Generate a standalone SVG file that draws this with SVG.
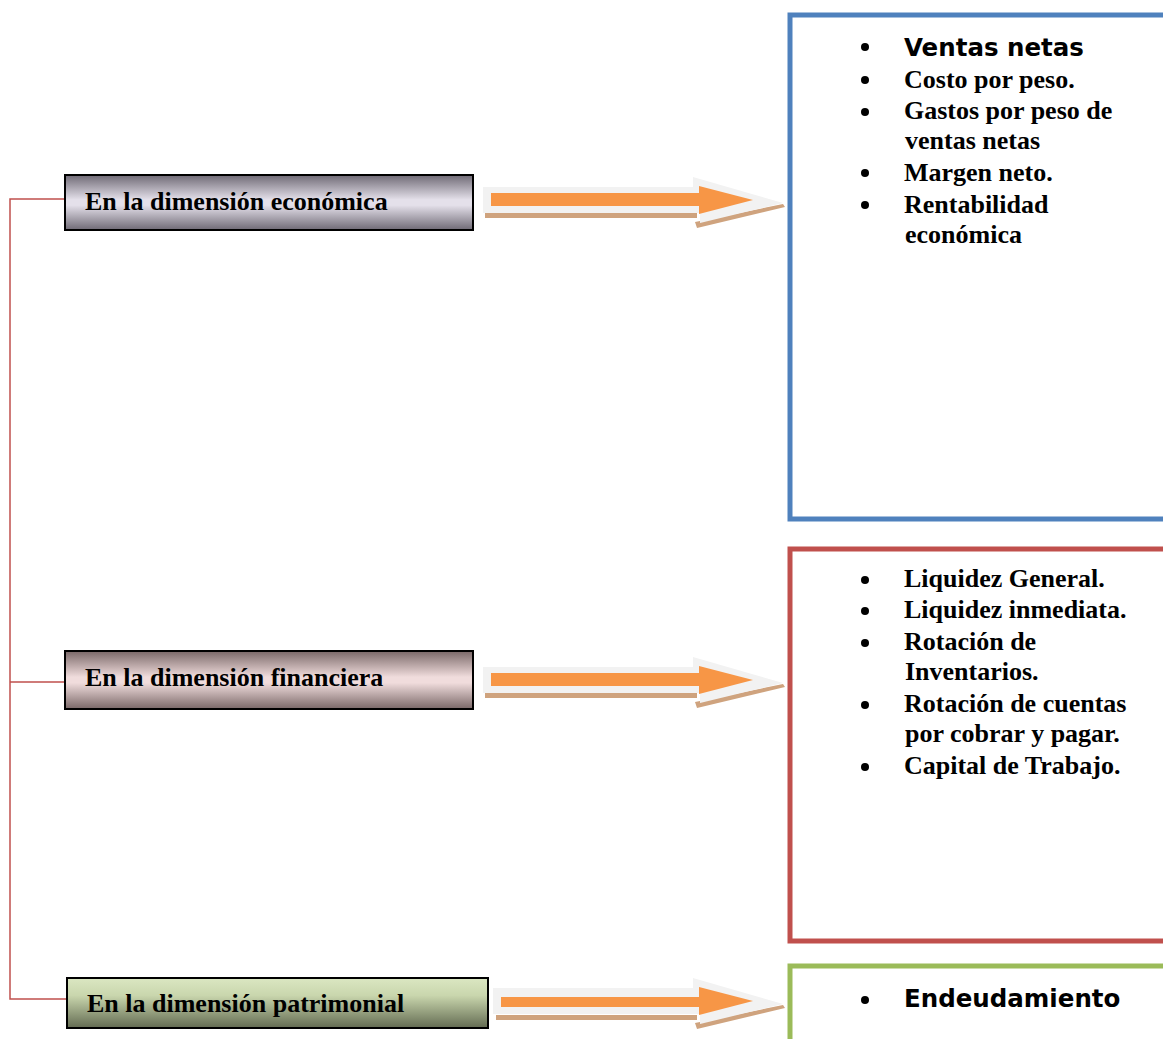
<svg xmlns="http://www.w3.org/2000/svg" width="1163" height="1039" viewBox="0 0 1163 1039">
<defs>
<linearGradient id="g1" x1="0" y1="0" x2="0" y2="1">
<stop offset="0" stop-color="#6f6a75"/><stop offset="0.45" stop-color="#e4e0ea"/><stop offset="0.55" stop-color="#e4e0ea"/><stop offset="1" stop-color="#6f6a75"/>
</linearGradient>
<linearGradient id="g2" x1="0" y1="0" x2="0" y2="1">
<stop offset="0" stop-color="#7a6868"/><stop offset="0.45" stop-color="#f0dcdc"/><stop offset="0.55" stop-color="#f0dcdc"/><stop offset="1" stop-color="#7a6868"/>
</linearGradient>
<linearGradient id="g3" x1="0" y1="0" x2="0" y2="1">
<stop offset="0" stop-color="#dbe7c2"/><stop offset="0.35" stop-color="#c9d6ad"/><stop offset="1" stop-color="#636b52"/>
</linearGradient>
<g id="arrowHead">
<polygon points="695,222 783,204 785,207 697,228" fill="#cfa37e"/>
<polygon points="693,187 693,177 783,203 700,223 700,213 693,213" fill="#f2f2f2"/>
</g>
<polygon id="orangeHead" points="699,193 699,186 753,200 699,214 699,206" fill="#f79646"/>
</defs>
<style>
.box{stroke:#000;stroke-width:2}
.lbl{font-family:"Liberation Serif","Times New Roman",serif;font-weight:bold;font-size:26px;fill:#000}
.item{font-family:"Liberation Serif","Times New Roman",serif;font-weight:bold;font-size:26px;fill:#000}
.gothic{font-family:"DejaVu Sans",sans-serif;font-weight:bold;font-size:24.5px;fill:#000}
.conn{fill:none;stroke:#c0504d;stroke-width:1.5}
.panel{fill:none;stroke-width:5}
.shadow{fill:#cfa37e}
.halo{fill:#f2f2f2}
.core{fill:#f79646}
</style>
<g id="connectors">
<path class="conn" d="M65,199 H10 V999 H67 M10,682 H65"/>
<g id="arrow1">
<rect class="shadow" x="485" y="213" width="212" height="5"/>
<rect class="halo" x="483" y="187" width="212" height="26"/>
<use href="#arrowHead"/>
<rect class="core" x="491" y="193" width="210" height="13"/>
<use href="#orangeHead"/>
</g>
<g id="arrow2" transform="translate(0,480)">
<rect class="shadow" x="485" y="213" width="212" height="5"/>
<rect class="halo" x="483" y="187" width="212" height="26"/>
<use href="#arrowHead"/>
<rect class="core" x="491" y="193" width="210" height="13"/>
<use href="#orangeHead"/>
</g>
<g id="arrow3" transform="translate(0,801)">
<rect class="shadow" x="496" y="214" width="201" height="5"/>
<rect class="halo" x="493" y="187" width="202" height="26"/>
<use href="#arrowHead"/>
<rect class="core" x="501" y="196" width="200" height="10"/>
<use href="#orangeHead"/>
</g>
</g>
<g id="node-economica">
<rect class="box" x="65" y="175" width="408" height="55" fill="url(#g1)"/>
<text class="lbl" x="85" y="210">En la dimensión económica</text>
</g>
<g id="node-financiera">
<rect class="box" x="65" y="651" width="408" height="58" fill="url(#g2)"/>
<text class="lbl" x="85" y="686">En la dimensión financiera</text>
</g>
<g id="node-patrimonial">
<rect class="box" x="67" y="978" width="421" height="50" fill="url(#g3)"/>
<text class="lbl" x="87" y="1012">En la dimensión patrimonial</text>
</g>
<g id="panel-economica">
<rect class="panel" x="790" y="15" width="390" height="504" stroke="#4f81bd"/>
<g fill="#000">
<circle cx="865" cy="47" r="4"/><circle cx="865" cy="80" r="4"/><circle cx="865" cy="112" r="4"/><circle cx="865" cy="173" r="4"/><circle cx="865" cy="205" r="4"/>
</g>
<text class="gothic" x="904" y="56">Ventas netas</text>
<text class="item" x="904" y="88">Costo por peso.</text>
<text class="item" x="904" y="119">Gastos por peso de</text>
<text class="item" x="905" y="149">ventas netas</text>
<text class="item" x="904" y="181">Margen neto.</text>
<text class="item" x="904" y="213">Rentabilidad</text>
<text class="item" x="905" y="243">económica</text>
</g>
<g id="panel-financiera">
<rect class="panel" x="790" y="549" width="390" height="392" stroke="#c0504d"/>
<g fill="#000">
<circle cx="865" cy="580" r="4"/><circle cx="865" cy="611" r="4"/><circle cx="865" cy="643" r="4"/><circle cx="865" cy="705" r="4"/><circle cx="865" cy="767" r="4"/>
</g>
<text class="item" x="904" y="587">Liquidez General.</text>
<text class="item" x="904" y="618">Liquidez inmediata.</text>
<text class="item" x="904" y="650">Rotación de</text>
<text class="item" x="905" y="680">Inventarios.</text>
<text class="item" x="904" y="712">Rotación de cuentas</text>
<text class="item" x="905" y="742">por cobrar y pagar.</text>
<text class="item" x="904" y="774">Capital de Trabajo.</text>
</g>
<g id="panel-patrimonial">
<rect class="panel" x="790" y="966" width="390" height="100" stroke="#9bbb59"/>
<circle cx="865" cy="1000" r="4" fill="#000"/>
<text class="gothic" x="904" y="1007">Endeudamiento</text>
</g>
</svg>
